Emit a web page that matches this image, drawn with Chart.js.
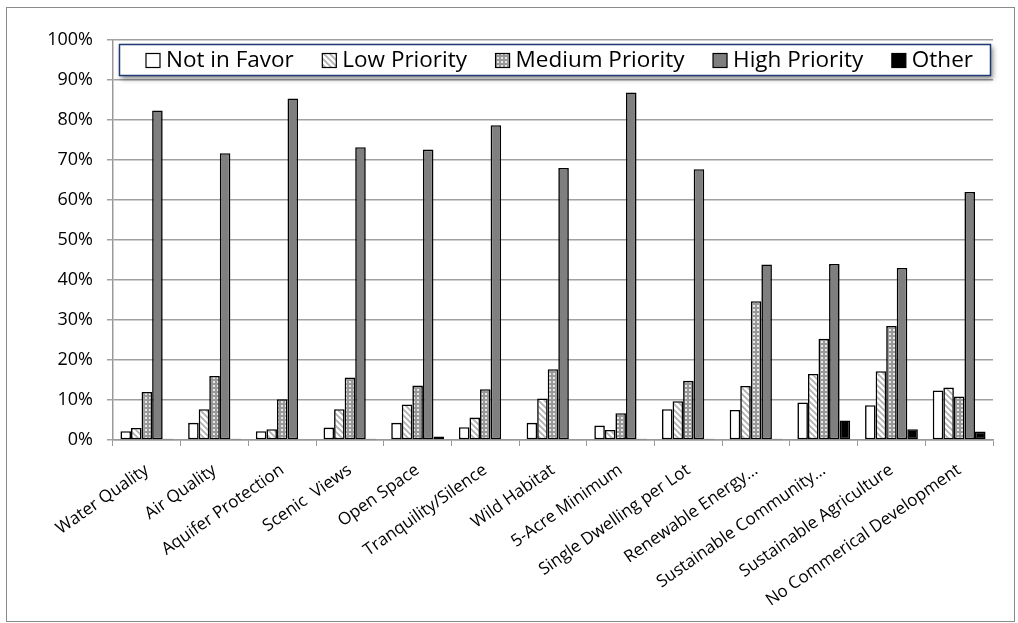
<!DOCTYPE html>
<html>
<head>
<meta charset="utf-8">
<script src="https://cdn.jsdelivr.net/npm/chart.js@4/dist/chart.umd.min.js"></script>
<style>
  html, body { margin: 0; padding: 0; background: #fff; }
  #wrap { width: 1018px; height: 623px; position: relative; }
</style>
</head>
<body>
<div id="wrap"><canvas id="c"></canvas></div>
<script>
// Survey categories and the share of responses (%) in each priority level
const categories = [
  'Water Quality', 'Air Quality', 'Aquifer Protection', 'Scenic  Views', 'Open Space',
  'Tranquility/Silence', 'Wild Habitat', '5-Acre Minimum', 'Single Dwelling per Lot',
  'Renewable Energy\u2026', 'Sustainable Community\u2026', 'Sustainable Agriculture',
  'No Commerical Development'
];
const notInFavor     = [2.2, 4.3, 2.2, 3.1, 4.3, 3.2, 4.3, 3.6, 7.7, 7.5, 9.4, 8.7, 12.4];
const lowPriority    = [3.0, 7.7, 2.7, 7.7, 8.9, 5.6, 10.4, 2.5, 9.7, 13.5, 16.5, 17.2, 13.1];
const mediumPriority = [12.0, 16.0, 10.2, 15.6, 13.6, 12.7, 17.7, 6.7, 14.8, 34.7, 25.3, 28.5, 10.9];
const highPriority   = [82.4, 71.7, 85.4, 73.2, 72.6, 78.7, 68.0, 86.9, 67.7, 43.9, 44.0, 43.0, 62.0];
const other          = [0.3, 0.3, 0, 0.3, 0.9, 0, 0, 0.3, 0.3, 0.3, 4.9, 2.7, 2.1];
const yTicks = [0, 10, 20, 30, 40, 50, 60, 70, 80, 90, 100];

const FONT = '"Open Sans", "DejaVu Sans", sans-serif';

// Fill patterns for the hatched series
function makePattern(size, paint) {
  const c = document.createElement('canvas');
  c.width = size; c.height = size;
  const g = c.getContext('2d');
  paint(g, size);
  return g.createPattern(c, 'repeat');
}
const ctxMain = document.getElementById('c').getContext('2d');
const stripeFill = makePattern(6, (g, s) => {
  g.fillStyle = '#ffffff'; g.fillRect(0, 0, s, s);
  g.strokeStyle = '#b0b0b0'; g.lineWidth = 1.7;
  g.beginPath();
  g.moveTo(-1, -1); g.lineTo(s + 1, s + 1);
  g.moveTo(-1, s - 1); g.lineTo(1, s + 1);
  g.moveTo(s - 1, -1); g.lineTo(s + 1, 1);
  g.stroke();
});
const dotFill = makePattern(4, (g, s) => {
  g.fillStyle = '#999999'; g.fillRect(0, 0, s, s);
  g.fillStyle = '#e8e8e8'; g.fillRect(1, 1, 2, 2);
});

const series = [
  { label: 'Not in Favor',    data: notInFavor,     fill: '#ffffff' },
  { label: 'Low Priority',    data: lowPriority,    fill: stripeFill },
  { label: 'Medium Priority', data: mediumPriority, fill: dotFill },
  { label: 'High Priority',   data: highPriority,   fill: '#7f7f7f' },
  { label: 'Other',           data: other,          fill: '#000000' }
];

// Boxed legend with drop shadow, drawn over the plot area
const boxedLegend = {
  id: 'boxedLegend',
  afterDraw(chart) {
    const ctx = chart.ctx;
    const x0 = 119, y0 = 44, x1 = 991, y1 = 76;
    ctx.save();
    ctx.shadowColor = 'rgba(0,0,0,0.45)';
    ctx.shadowBlur = 5;
    ctx.shadowOffsetX = 2;
    ctx.shadowOffsetY = 3;
    ctx.fillStyle = '#ffffff';
    ctx.fillRect(x0, y0, x1 - x0, y1 - y0);
    ctx.restore();
    ctx.save();
    ctx.strokeStyle = '#1f3a73';
    ctx.lineWidth = 1.5;
    ctx.strokeRect(x0 + 0.5, y0 + 0.5, x1 - x0 - 1, y1 - y0 - 1);
    ctx.font = '22.5px ' + FONT;
    ctx.textBaseline = 'middle';
    ctx.fillStyle = '#000';
    const box = 14, gapBox = 6;
    const startX = 146, endX = 973;
    const widths = series.map(s => box + gapBox + ctx.measureText(s.label).width);
    const used = widths.reduce((a, b) => a + b, 0);
    const gapItem = (endX - startX - used) / (series.length - 1);
    let x = startX;
    const cy = (y0 + y1) / 2 + 0.5;
    series.forEach((s, i) => {
      ctx.fillStyle = s.fill;
      ctx.fillRect(x, cy - box / 2, box, box);
      ctx.strokeStyle = '#000';
      ctx.lineWidth = 1.2;
      ctx.strokeRect(x, cy - box / 2, box, box);
      ctx.fillStyle = '#000';
      ctx.fillText(s.label, x + box + gapBox, cy);
      x += widths[i] + gapItem;
    });
    ctx.restore();
  }
};

// Thin grey frame around the whole chart
const outerFrame = {
  id: 'outerFrame',
  afterDraw(chart) {
    const ctx = chart.ctx;
    ctx.save();
    ctx.strokeStyle = '#8a8a8a';
    ctx.lineWidth = 1;
    ctx.strokeRect(6.5, 7.5, 1008, 614);
    ctx.restore();
  }
};

new Chart(ctxMain, {
  type: 'bar',
  data: {
    labels: categories,
    datasets: series.map(s => ({
      label: s.label,
      data: s.data,
      backgroundColor: s.fill,
      borderColor: '#000000',
      borderWidth: 1.6,
      borderSkipped: false,
      barPercentage: 1.0,
      categoryPercentage: 0.78
    }))
  },
  options: {
    responsive: true,
    maintainAspectRatio: false,
    animation: false,
    layout: { padding: { top: 40, right: 25, left: 0, bottom: 0 } },
    plugins: {
      legend: { display: false },
      tooltip: { enabled: false }
    },
    scales: {
      x: {
        grid: { offset: true, drawOnChartArea: false, drawTicks: true, tickLength: 6, color: '#999999' },
        border: { color: '#999999', width: 1.5 },
        ticks: {
          autoSkip: false,
          minRotation: 35,
          maxRotation: 35,
          padding: 14,
          color: '#000000',
          font: { family: FONT, size: 17 }
        },
        afterFit(scale) { scale.height = 183; }
      },
      y: {
        min: 0,
        max: 100,
        afterBuildTicks(scale) { scale.ticks = yTicks.map(v => ({ value: v })); },
        grid: { color: '#a0a0a0', lineWidth: 1.5, tickLength: 6 },
        border: { color: '#999999', width: 1.5 },
        ticks: {
          padding: 14,
          color: '#000000',
          font: { family: FONT, size: 18 },
          callback: v => v + '%'
        },
        afterFit(scale) { scale.width = 113; }
      }
    }
  },
  plugins: [boxedLegend, outerFrame]
});
</script>
</body>
</html>
